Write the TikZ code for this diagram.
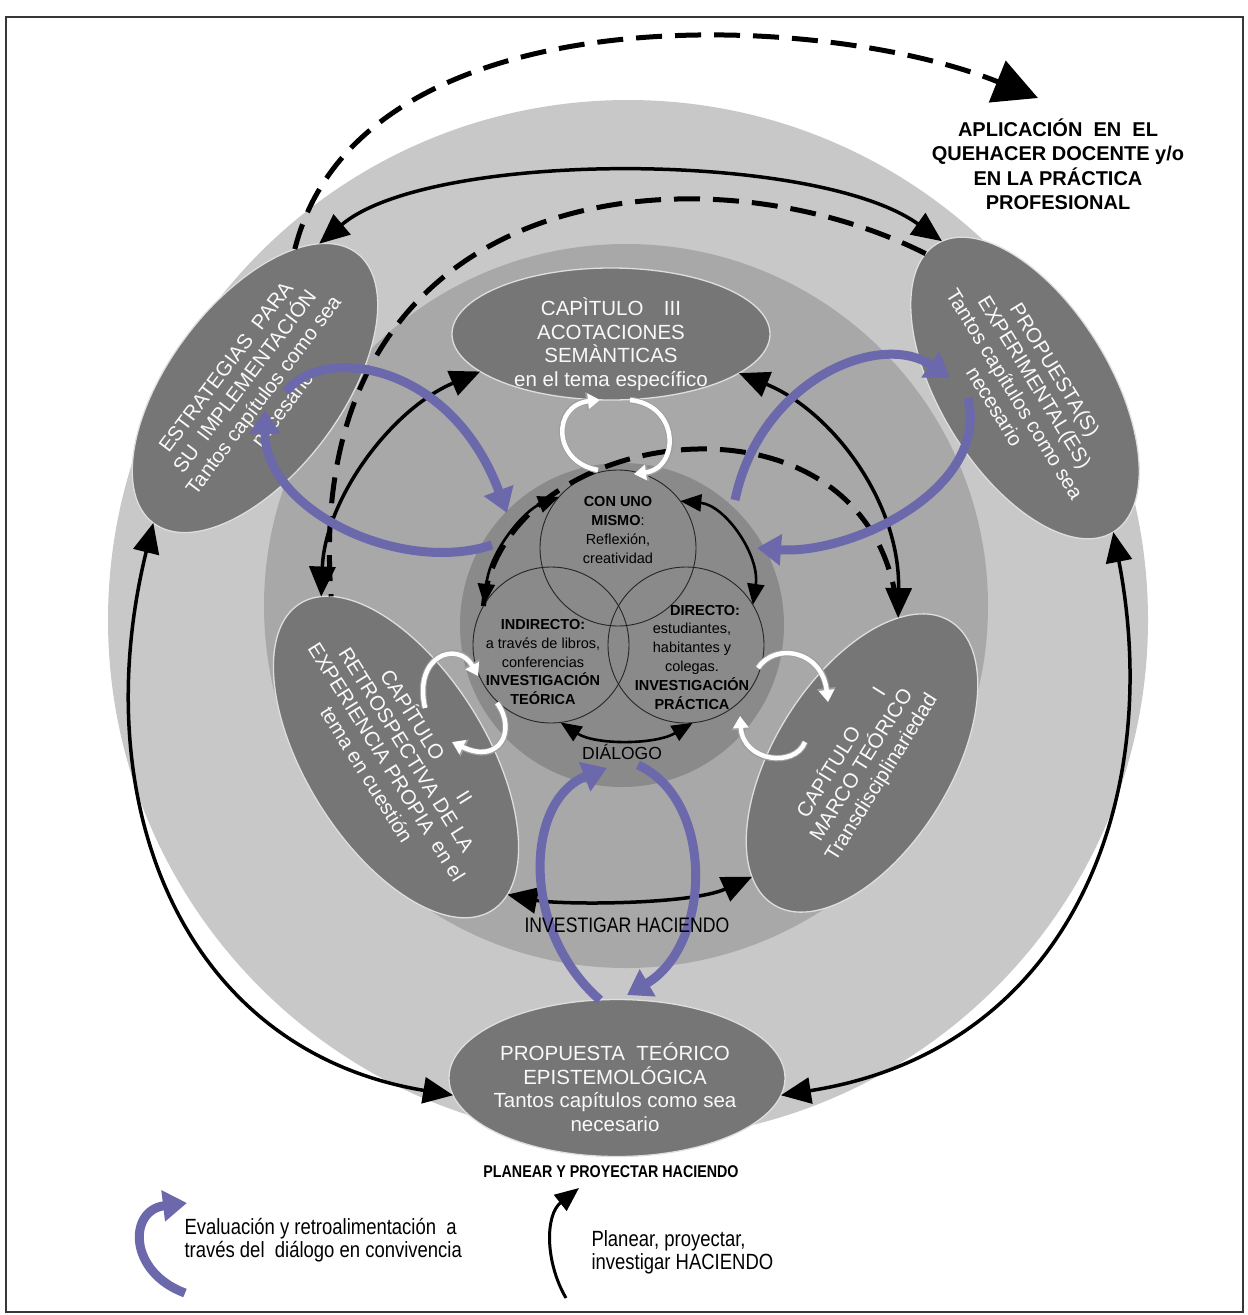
\documentclass[tikz,border=0pt]{standalone}
\usepackage{fontspec}
\setmainfont{Liberation Sans}
\newfontfamily\narrowfont[FakeStretch=0.84]{Liberation Sans}
\usetikzlibrary{arrows.meta,shapes.geometric}
\definecolor{ringout}{RGB}{200,200,200}
\definecolor{ringmid}{RGB}{168,168,168}
\definecolor{ringin}{RGB}{138,138,138}
\definecolor{capfill}{RGB}{118,118,118}
\definecolor{capline}{RGB}{222,222,222}
\definecolor{evalblue}{RGB}{108,104,172}
\definecolor{framegray}{RGB}{55,55,55}

\begin{document}
\begin{tikzpicture}[
  x=1pt, y=-1pt,
  ring/.style={circle, inner sep=0pt, outer sep=0pt},
  chapter/.style={ellipse, fill=capfill, draw=capline, line width=1.3pt, inner sep=0pt, outer sep=0pt},
  chaptertext/.style={align=center, text=white!95!gray, font=\fontsize{20.5}{23.5}\selectfont, inner sep=0pt},
  venn/.style={circle, draw=black!85, line width=0.9pt, minimum size=156pt, inner sep=0pt, outer sep=0pt},
  venntext/.style={align=center, font=\fontsize{14.5}{18.8}\selectfont},
  link/.style={line width=3.5pt, {Triangle[length=30pt,width=26pt]}-{Triangle[length=30pt,width=26pt]}},
  vlink/.style={line width=2.6pt, {Triangle[length=21pt,width=17pt]}-{Triangle[length=21pt,width=17pt]}},
  apply/.style={line width=5pt, dash pattern=on 26pt off 13pt},
  feedback/.style={evalblue, line width=9pt, -{Triangle[length=24pt,width=30pt]}},
  turn/.style={white, line width=4.5pt, -{Triangle[length=12pt,width=15pt]},
    preaction={draw=gray!75, line width=6.5pt, -{Triangle[length=14pt,width=18pt]}}},
  motto/.style={font=\narrowfont\fontsize{21}{23}\selectfont},
  legend/.style={font=\narrowfont\fontsize{22}{23}\selectfont, align=left, anchor=west}
]
\useasboundingbox (0,0) rectangle (1248,1315);
\draw[framegray, line width=2.5pt] (6,17) rectangle (1243,1312);

% three discs
\node[ring, fill=ringout, minimum size=1040pt] (outer) at (628,620) {};
\node[ring, fill=ringmid, minimum size=724pt] (middle) at (626,606) {};
\node[ring, fill=ringin, minimum size=324pt] (inner) at (622,625) {};

% chapters
\node[chapter, minimum width=318pt, minimum height=132pt] (e3) at (611,334) {};
\node[chapter, rotate=53, minimum width=338pt, minimum height=172pt] (etl) at (255,388) {};
\node[chapter, rotate=-58.5, minimum width=338pt, minimum height=170pt] (etr) at (1025,388) {};
\node[chapter, rotate=-58, minimum width=362pt, minimum height=180pt] (e2) at (396,757) {};
\node[chapter, rotate=58, minimum width=334pt, minimum height=176pt] (e1) at (862,763) {};
\node[chapter, minimum width=336pt, minimum height=157pt] (eb) at (617,1078) {};

\node[chaptertext] (e3t) at (611,344) {CAPÌTULO\quad III\\ACOTACIONES\\SEMÀNTICAS\\en el tema específico};
\node[chaptertext, rotate=53] (etlt) at (254,388) {ESTRATEGIAS\ \ PARA\\SU\ \ IMPLEMENTACIÓN\\Tantos capítulos como sea\\necesario};
\node[chaptertext, rotate=-58.5] (etrt) at (1025,388) {PROPUESTA(S)\\EXPERIMENTAL(ES)\\Tantos capítulos como sea\\necesario};
\node[chaptertext, rotate=-58] (e2t) at (398,755) {CAPÍTULO\qquad II\\RETROSPECTIVA DE LA\\EXPERIENCIA PROPIA\ \ en el\\tema en cuestión};
\node[chaptertext, rotate=58] (e1t) at (861,765) {CAPÍTULO\qquad I\\MARCO TEÓRICO\\Transdisciplinariedad};
\node[chaptertext] (ebt) at (615,1087) {PROPUESTA\ \ TEÓRICO\\EPISTEMOLÓGICA\\Tantos capítulos como sea\\necesario};

% dialogue circles
\node[venn] (vtop) at (618,548) {};
\node[venn] (vleft) at (551,645) {};
\node[venn] (vright) at (686,645) {};
\node[venntext] (toptxt) at (618,530) {\textbf{CON UNO}\\\textbf{MISMO}:\\Reflexión,\\creatividad};
\node[venntext] (lefttxt) at (543,662) {\textbf{INDIRECTO:}\\a través de libros,\\conferencias\\\textbf{INVESTIGACIÓN}\\\textbf{TEÓRICA}};
\node[venntext] (righttxt) at (692,657) {\hspace*{1.8em}\textbf{DIRECTO:}\\estudiantes,\\habitantes y\\colegas.\\\textbf{INVESTIGACIÓN}\\\textbf{PRÁCTICA}};

% solid links
\draw[link] (etl.13) .. controls (430,150) and (815,150) .. (etr.178);
\draw[link] (etl.west) .. controls (85,800) and (180,1050) .. (eb.186);
\draw[link] (etr.east) .. controls (1165,800) and (1070,1050) .. (eb.-6);
\draw[link] (e3.196) .. controls (390,410) and (325,500) .. (e2.173);
\draw[link] (e3.-17) .. controls (830,410) and (900,500) .. (e1.18);
\draw[link] (e2.7) .. controls (560,905) and (690,905) .. (e1.168);
\draw[vlink] (vtop.139) .. controls (525,510) and (490,550) .. (vleft.149);
\draw[vlink] (vtop.37) .. controls (725,505) and (760,555) .. (vright.31);
\draw[vlink] (vleft.-83) .. controls (595,745) and (655,745) .. (vright.-85);

% dashed links
\coordinate (aplend) at (1038,98);
\draw[apply, -{Triangle[length=44pt,width=44pt]}] (etl.21) .. controls (360,-10) and (820,10) .. (aplend);
\draw[apply] (etr.185) .. controls (700,140) and (300,180) .. (e2.170);
\draw[apply] (vleft.150) .. controls (500,420) and (880,370) .. (e1.18);

% feedback loops
\coordinate (pl1) at (286,392); \coordinate (pl2) at (507,513);
\coordinate (pl3) at (492,545); \coordinate (pl4) at (265,410);
\coordinate (pr1) at (735,500); \coordinate (pr2) at (950,378);
\coordinate (pr3) at (968,398); \coordinate (pr4) at (757,548);
\coordinate (pb1) at (600,1000); \coordinate (pb2) at (607,768);
\coordinate (pb3) at (638,765); \coordinate (pb4) at (627,995);
\draw[feedback] (pl1) .. controls (320,345) and (450,360) .. (pl2);
\draw[feedback] (pl3) .. controls (400,575) and (265,510) .. (pl4);
\draw[feedback] (pr1) .. controls (760,380) and (880,330) .. (pr2);
\draw[feedback] (pr3) .. controls (990,490) and (850,555) .. (pr4);
\draw[feedback] (pb1) .. controls (520,930) and (525,800) .. (pb2);
\draw[feedback] (pb3) .. controls (715,800) and (712,945) .. (pb4);

% white turns
\coordinate (wt1) at (598,470); \coordinate (wt2) at (600,400);
\coordinate (wt3) at (630,400); \coordinate (wt4) at (634,474);
\coordinate (wl1) at (425,708); \coordinate (wl2) at (478,676);
\coordinate (wl3) at (497,703); \coordinate (wl4) at (452,742);
\coordinate (wr1) at (758,668); \coordinate (wr2) at (828,702);
\coordinate (wr3) at (805,742); \coordinate (wr4) at (740,716);
\draw[turn] (wt1) .. controls (552,462) and (552,405) .. (wt2);
\draw[turn] (wt3) .. controls (680,405) and (680,468) .. (wt4);
\draw[turn] (wl1) .. controls (413,655) and (458,640) .. (wl2);
\draw[turn] (wl3) .. controls (517,730) and (500,765) .. (wl4);
\draw[turn] (wr1) .. controls (775,642) and (822,650) .. (wr2);
\draw[turn] (wr3) .. controls (795,768) and (743,762) .. (wr4);

% free texts
\node[font=\bfseries\fontsize{20}{24.5}\selectfont, align=center] (aplic) at (1058,164) {APLICACIÓN\ \ EN\ \ EL\\QUEHACER DOCENTE y/o\\EN LA PRÁCTICA\\PROFESIONAL};
\node[font=\fontsize{17.5}{20}\selectfont] (dialogo) at (622,752) {DIÁLOGO};
\node[motto] (invest) at (627,925) {INVESTIGAR HACIENDO};
\node[font=\narrowfont\bfseries\fontsize{17}{20}\selectfont] (planear) at (611,1172) {PLANEAR Y PROYECTAR HACIENDO};

% legend
\coordinate (lg1) at (185,1293); \coordinate (lg2) at (187,1203);
\draw[feedback] (lg1) .. controls (128,1272) and (128,1210) .. (lg2);
\node[legend] (evaltxt) at (181,1240) {Evaluación y retroalimentación\ \ a\\través del\ \ diálogo en convivencia};
\coordinate (lk1) at (566,1298); \coordinate (lk2) at (579,1188);
\draw[line width=3pt, -{Triangle[length=24pt,width=20pt]}] (lk1) .. controls (545,1262) and (545,1215) .. (lk2);
\node[legend] (plantxt) at (588,1252) {Planear, proyectar,\\investigar HACIENDO};
\end{tikzpicture}
\end{document}
